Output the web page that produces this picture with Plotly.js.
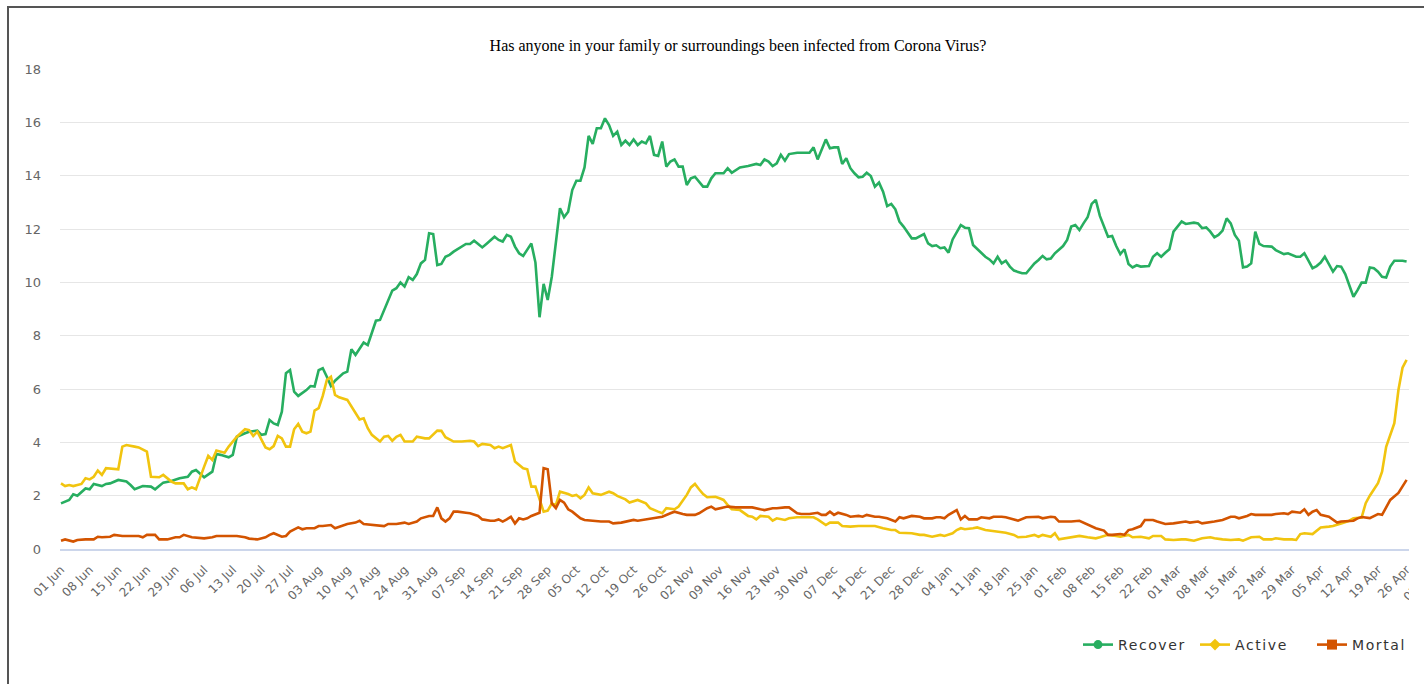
<!DOCTYPE html>
<html>
<head>
<meta charset="utf-8">
<script src="https://cdn.plot.ly/plotly-3.0.1.min.js"></script>
<style>
  html, body { margin: 0; padding: 0; background: #ffffff; overflow: hidden; }
  #clip { position: absolute; left: 0; top: 0; width: 1409px; height: 684px; overflow: hidden; background: #fff; }
  #chart { width: 1480px; height: 684px; }
  .legendtext { letter-spacing: 1.6px; }
  #frameTop { position: absolute; left: 7px; top: 6px; width: 1417px; height: 2px; background: #555; }
  #frameLeft { position: absolute; left: 7px; top: 6px; width: 2px; height: 678px; background: #555; }
</style>
</head>
<body>
<div id="clip"><div id="chart"></div></div>
<div id="frameTop"></div>
<div id="frameLeft"></div>
<script>
// ---- Data (day offsets from 01 Jun 2020) ----
const startDate = '2020-06-01';
const seriesNames = ['Recover', 'Active', 'Mortal'];

const recoverDay = [
  0,2,3,4,6,7,8,10,11,12,
  14,16,17,18,20,22,23,25,27,29,
  31,32,33,35,37,38,39,41,42,43,
  45,46,48,49,50,51,52,53,54,55,
  56,57,58,60,61,62,63,64,65,66,
  67,69,70,71,72,74,75,76,77,78,
  80,81,82,83,84,85,86,87,88,89,
  90,91,92,93,94,95,96,97,99,100,
  101,102,103,104,106,107,108,109,110,111,
  112,113,114,115,116,117,118,119,120,122,
  123,124,125,126,127,128,129,130,131,132,
  133,134,135,136,137,138,139,140,141,142,
  143,144,145,146,147,148,149,150,151,152,
  153,154,155,156,157,158,159,160,162,163,
  164,166,168,170,171,172,173,174,175,176,
  177,178,180,183,184,185,186,187,188,189,
  190,191,192,193,194,195,196,197,198,199,
  200,201,202,203,204,205,206,207,208,209,
  210,211,212,213,214,215,216,217,218,219,
  220,221,222,223,224,225,226,227,228,229,
  230,231,232,233,235,236,237,238,239,240,
  241,242,243,244,245,246,247,248,249,250,
  251,252,253,254,255,256,257,258,259,260,
  261,262,263,264,266,267,268,269,270,271,
  272,273,274,275,277,278,279,280,281,282,
  283,284,285,286,287,288,289,290,291,292,
  293,294,296,297,298,299,300,302,303,304,
  305,306,307,308,309,310,311,312,313,314,
  315,316,317,318,319,320,321,322,323,324,
  325,326,328,329
];
const recoverVal = [
  1.71,1.84,2.05,2.0,2.27,2.24,2.44,2.36,2.44,2.46,
  2.59,2.53,2.4,2.24,2.36,2.34,2.24,2.49,2.55,2.65,
  2.71,2.9,2.96,2.69,2.9,3.56,3.53,3.44,3.53,4.21,
  4.34,4.4,4.44,4.28,4.31,4.84,4.71,4.65,5.15,6.59,
  6.71,5.9,5.74,5.96,6.11,6.09,6.71,6.78,6.46,6.11,
  6.31,6.59,6.65,7.49,7.28,7.74,7.65,8.09,8.56,8.59,
  9.34,9.69,9.78,9.99,9.84,10.19,10.09,10.31,10.71,10.84,
  11.84,11.81,10.65,10.69,10.96,11.03,11.15,11.24,11.44,11.44,
  11.56,11.44,11.31,11.44,11.71,11.59,11.53,11.78,11.71,11.34,
  11.09,10.99,11.24,11.46,10.74,8.69,9.94,9.34,10.21,12.78,
  12.44,12.65,13.46,13.81,13.81,14.31,15.49,15.19,15.78,15.78,
  16.15,15.9,15.49,15.65,15.15,15.31,15.15,15.36,15.15,15.28,
  15.21,15.49,14.78,14.74,15.28,14.34,14.53,14.61,14.34,14.34,
  13.65,13.9,13.96,13.78,13.59,13.59,13.9,14.09,14.09,14.28,
  14.11,14.31,14.36,14.44,14.4,14.61,14.53,14.36,14.46,14.78,
  14.56,14.81,14.86,14.86,15.06,14.61,14.99,15.36,15.03,15.06,
  15.06,14.44,14.65,14.28,14.09,13.94,13.96,14.11,13.99,13.59,
  13.74,13.4,12.86,12.94,12.74,12.28,12.09,11.86,11.65,11.65,
  11.74,11.81,11.46,11.36,11.39,11.28,11.31,11.11,11.61,11.9,
  12.15,12.05,12.03,11.4,11.24,11.09,10.96,10.86,10.71,10.96,
  10.71,10.81,10.59,10.44,10.34,10.34,10.53,10.71,10.84,10.99,
  10.86,10.89,11.09,11.21,11.36,11.59,12.09,12.15,11.96,12.21,
  12.44,12.94,13.09,12.49,12.09,11.71,11.74,11.36,11.06,11.24,
  10.69,10.56,10.64,10.59,10.61,10.96,11.09,10.96,11.11,11.24,
  11.9,12.11,12.28,12.19,12.24,12.21,12.03,12.06,11.9,11.69,
  11.78,11.94,12.4,12.21,11.78,11.56,10.56,10.59,10.71,11.9,
  11.44,11.36,11.34,11.21,11.15,11.06,11.09,10.96,10.96,11.09,
  10.81,10.53,10.61,10.74,10.96,10.69,10.4,10.61,10.59,10.31,
  9.84,9.46,9.71,9.99,9.99,10.56,10.53,10.4,10.21,10.18,
  10.59,10.81,10.81,10.78
];

const activeDay = [
  0,1,2,3,5,6,7,8,9,10,
  11,13,14,15,16,18,19,21,22,24,
  25,27,28,30,31,32,33,35,36,37,
  38,40,41,43,45,46,47,48,50,51,
  52,53,54,55,56,57,58,59,60,61,
  62,63,64,65,66,67,68,70,71,72,
  73,74,75,76,78,79,80,81,82,83,
  84,86,87,89,90,92,93,94,96,98,
  100,101,102,103,105,106,107,108,109,110,
  111,113,114,115,116,118,119,120,121,122,
  124,125,126,127,128,129,130,131,132,134,
  135,136,138,139,141,143,144,146,147,148,
  150,151,153,154,155,156,157,158,160,161,
  162,163,164,166,168,169,170,171,173,174,
  175,177,178,180,182,184,185,187,188,190,
  191,193,195,198,199,201,203,204,205,208,
  210,211,213,215,216,218,219,220,221,223,
  224,226,227,229,231,233,234,236,238,239,
  240,242,243,244,245,247,249,251,253,254,
  256,258,259,261,262,264,266,267,269,270,
  272,274,275,277,279,281,282,284,286,288,
  289,291,293,294,296,297,299,301,302,303,
  304,306,307,308,310,311,313,315,316,318,
  319,320,322,323,324,326,327,328,329
];
const activeVal = [
  2.46,2.36,2.4,2.36,2.44,2.65,2.61,2.71,2.94,2.78,
  3.03,2.99,2.99,3.84,3.9,3.84,3.81,3.65,2.71,2.69,
  2.78,2.53,2.46,2.46,2.24,2.31,2.24,3.09,3.49,3.34,
  3.69,3.61,3.84,4.21,4.49,4.46,4.24,4.4,3.81,3.74,
  3.86,4.24,4.15,3.84,3.84,4.49,4.69,4.4,4.34,4.4,
  5.19,5.28,5.74,6.34,6.46,5.78,5.69,5.59,5.36,5.09,
  4.86,4.9,4.53,4.28,4.03,4.21,4.24,4.06,4.21,4.28,
  4.03,4.03,4.21,4.15,4.15,4.44,4.43,4.19,4.03,4.03,
  4.06,4.03,3.86,3.94,3.9,3.78,3.84,3.78,3.84,3.9,
  3.28,3.03,2.99,2.34,2.34,1.4,1.44,1.71,1.65,2.15,
  2.06,1.99,2.03,1.9,2.03,2.31,2.09,2.06,2.03,2.15,
  2.09,1.99,1.86,1.74,1.84,1.71,1.53,1.4,1.34,1.53,
  1.49,1.59,2.03,2.31,2.44,2.24,2.06,1.94,1.96,1.9,
  1.84,1.65,1.49,1.46,1.24,1.21,1.11,1.24,1.21,1.06,
  1.15,1.09,1.15,1.19,1.19,1.19,1.11,0.9,0.99,0.99,
  0.86,0.84,0.86,0.84,0.86,0.78,0.71,0.71,0.61,0.59,
  0.53,0.53,0.46,0.53,0.49,0.59,0.71,0.78,0.74,0.78,
  0.81,0.71,0.69,0.65,0.61,0.53,0.44,0.46,0.53,0.46,
  0.53,0.46,0.59,0.36,0.39,0.44,0.49,0.44,0.4,0.44,
  0.53,0.49,0.46,0.53,0.44,0.46,0.4,0.49,0.49,0.36,
  0.34,0.36,0.36,0.31,0.4,0.44,0.4,0.36,0.34,0.36,
  0.31,0.44,0.46,0.36,0.36,0.4,0.36,0.36,0.34,0.56,
  0.59,0.56,0.69,0.81,0.84,0.86,0.96,1.06,1.15,1.18,
  1.72,2.0,2.47,2.9,3.83,4.72,5.96,6.8,7.09
];

const mortalDay = [
  0,1,3,4,6,8,9,10,12,13,
  15,17,19,20,21,23,24,26,28,29,
  30,32,34,35,37,38,40,42,43,45,
  46,48,50,51,52,54,55,56,58,59,
  60,62,63,64,66,67,69,70,72,73,
  74,76,77,79,80,82,84,85,87,88,
  90,91,92,93,94,95,96,97,99,100,
  102,103,105,106,107,108,109,110,111,112,
  113,114,115,117,118,119,120,121,122,123,
  124,125,127,128,130,132,134,135,137,138,
  140,141,143,144,146,147,149,150,152,153,
  155,156,158,159,160,161,163,165,167,169,
  171,172,174,175,177,178,180,181,183,185,
  186,187,188,189,190,192,193,195,196,197,
  199,200,202,204,205,206,208,210,211,213,
  214,215,216,217,219,220,221,222,224,225,
  227,228,230,231,233,234,236,237,239,240,
  242,243,244,246,247,249,250,252,253,255,
  256,257,259,260,261,262,264,265,267,268,
  270,272,273,275,276,278,279,281,282,284,
  286,287,288,290,291,292,294,296,297,299,
  300,301,303,304,305,306,307,308,310,311,
  312,313,315,316,317,318,320,322,323,324,
  325,327,328,329
];
const mortalVal = [
  0.31,0.36,0.28,0.34,0.36,0.36,0.46,0.44,0.46,0.53,
  0.49,0.49,0.49,0.44,0.53,0.53,0.36,0.36,0.44,0.44,
  0.53,0.44,0.4,0.4,0.44,0.49,0.49,0.49,0.49,0.44,
  0.39,0.36,0.44,0.53,0.59,0.46,0.49,0.65,0.81,0.74,
  0.78,0.78,0.86,0.86,0.9,0.78,0.9,0.94,0.99,1.06,
  0.94,0.9,0.9,0.86,0.94,0.94,0.99,0.94,1.03,1.15,
  1.24,1.24,1.56,1.15,1.03,1.15,1.4,1.4,1.36,1.34,
  1.24,1.11,1.06,1.06,1.11,1.03,1.11,1.21,0.96,1.15,
  1.11,1.15,1.24,1.36,3.03,2.99,1.71,1.53,1.84,1.74,
  1.49,1.4,1.15,1.09,1.06,1.03,1.03,0.96,0.99,1.03,
  1.09,1.06,1.11,1.15,1.21,1.21,1.34,1.4,1.31,1.28,
  1.28,1.34,1.53,1.59,1.49,1.53,1.59,1.56,1.56,1.56,
  1.49,1.46,1.53,1.53,1.56,1.56,1.34,1.31,1.31,1.36,
  1.28,1.28,1.4,1.28,1.36,1.28,1.21,1.24,1.21,1.28,
  1.21,1.21,1.15,1.03,1.19,1.15,1.24,1.21,1.15,1.15,
  1.19,1.19,1.15,1.28,1.46,1.11,1.24,1.11,1.11,1.19,
  1.15,1.21,1.21,1.19,1.11,1.06,1.19,1.19,1.21,1.15,
  1.21,1.19,1.03,1.03,1.03,1.06,0.99,0.84,0.78,0.69,
  0.53,0.53,0.56,0.53,0.71,0.74,0.86,1.09,1.09,1.03,
  0.94,0.96,0.99,1.03,0.99,1.03,0.96,0.99,1.03,1.09,
  1.21,1.21,1.15,1.24,1.31,1.28,1.28,1.28,1.31,1.34,
  1.31,1.4,1.36,1.49,1.28,1.4,1.46,1.28,1.21,1.11,
  0.99,1.03,1.06,1.06,1.15,1.2,1.16,1.31,1.28,1.54,
  1.84,2.1,2.33,2.59
];

const seriesColors = ['#27ae60', '#f1c40f', '#d35400'];
const legendSymbols = ['circle', 'diamond', 'square'];

// ---- Helpers ----
const DAY_MS = 86400000;
const baseMs = Date.parse(startDate + 'T00:00:00Z');
function dayToDate(d) {
  return new Date(baseMs + d * DAY_MS).toISOString().replace('T', ' ').replace('Z', '');
}

const dayLists = [recoverDay, activeDay, mortalDay];
const valLists = [recoverVal, activeVal, mortalVal];

const traces = [];
seriesNames.forEach((name, i) => {
  traces.push({
    type: 'scatter', mode: 'lines', name: name,
    x: dayLists[i].map(dayToDate), y: valLists[i],
    line: { color: seriesColors[i], width: 2.6 },
    showlegend: false, hoverinfo: 'skip'
  });
});
seriesNames.forEach((name, i) => {
  traces.push({
    type: 'scatter', mode: 'lines+markers', name: name,
    x: [null], y: [null],
    line: { color: seriesColors[i], width: 2.6 },
    marker: { color: seriesColors[i], size: i === 2 ? 10 : 9, symbol: legendSymbols[i] },
    showlegend: true, hoverinfo: 'skip'
  });
});

const W = 1480, H = 684;
const mL = 60, mR = 40, mT = 69, mB = 135;
const pxPerDay = 4.09;
const plotW = W - mL - mR;
const rangeStart = -1 / pxPerDay;
const rangeEnd = rangeStart + plotW / pxPerDay;

const layout = {
  width: W, height: H,
  margin: { l: mL, r: mR, t: mT, b: mB, pad: 0 },
  paper_bgcolor: '#ffffff', plot_bgcolor: '#ffffff',
  showlegend: true,
  hovermode: false,
  title: {
    text: 'Has anyone in your family or surroundings been infected from Corona Virus?',
    font: { family: '"Liberation Serif", "Times New Roman", serif', size: 16, color: '#000000' },
    xref: 'container', x: 738 / W, xanchor: 'center',
    yref: 'container', y: 1 - 45 / H, yanchor: 'middle'
  },
  xaxis: {
    type: 'date',
    range: [dayToDate(rangeStart), dayToDate(rangeEnd)],
    tick0: startDate, dtick: 7 * DAY_MS,
    tickformat: '%d %b', tickangle: -45,
    tickfont: { family: '"DejaVu Sans", Verdana, sans-serif', size: 12, color: '#666666' },
    ticks: '', ticklabelstandoff: 7,
    showgrid: false, zeroline: false,
    showline: true, linecolor: '#ccd6eb', linewidth: 2,
    fixedrange: true
  },
  yaxis: {
    range: [0, 18], dtick: 2, tick0: 0,
    tickfont: { family: '"DejaVu Sans", Verdana, sans-serif', size: 13, color: '#666666' },
    ticks: '', ticklabelstandoff: 18,
    showgrid: true, gridcolor: '#e6e6e6', gridwidth: 1,
    zeroline: false, showline: false,
    fixedrange: true
  },
  legend: {
    orientation: 'h',
    xref: 'container', x: 1078 / W, xanchor: 'left',
    yref: 'container', y: 1 - 645 / H, yanchor: 'middle',
    font: { family: '"DejaVu Sans", Verdana, sans-serif', size: 14, color: '#333333' },
    itemwidth: 30, entrywidth: 72, entrywidthmode: 'pixels',
    bgcolor: 'rgba(0,0,0,0)'
  }
};

Plotly.newPlot('chart', traces, layout, { staticPlot: true, displayModeBar: false });
</script>
</body>
</html>
